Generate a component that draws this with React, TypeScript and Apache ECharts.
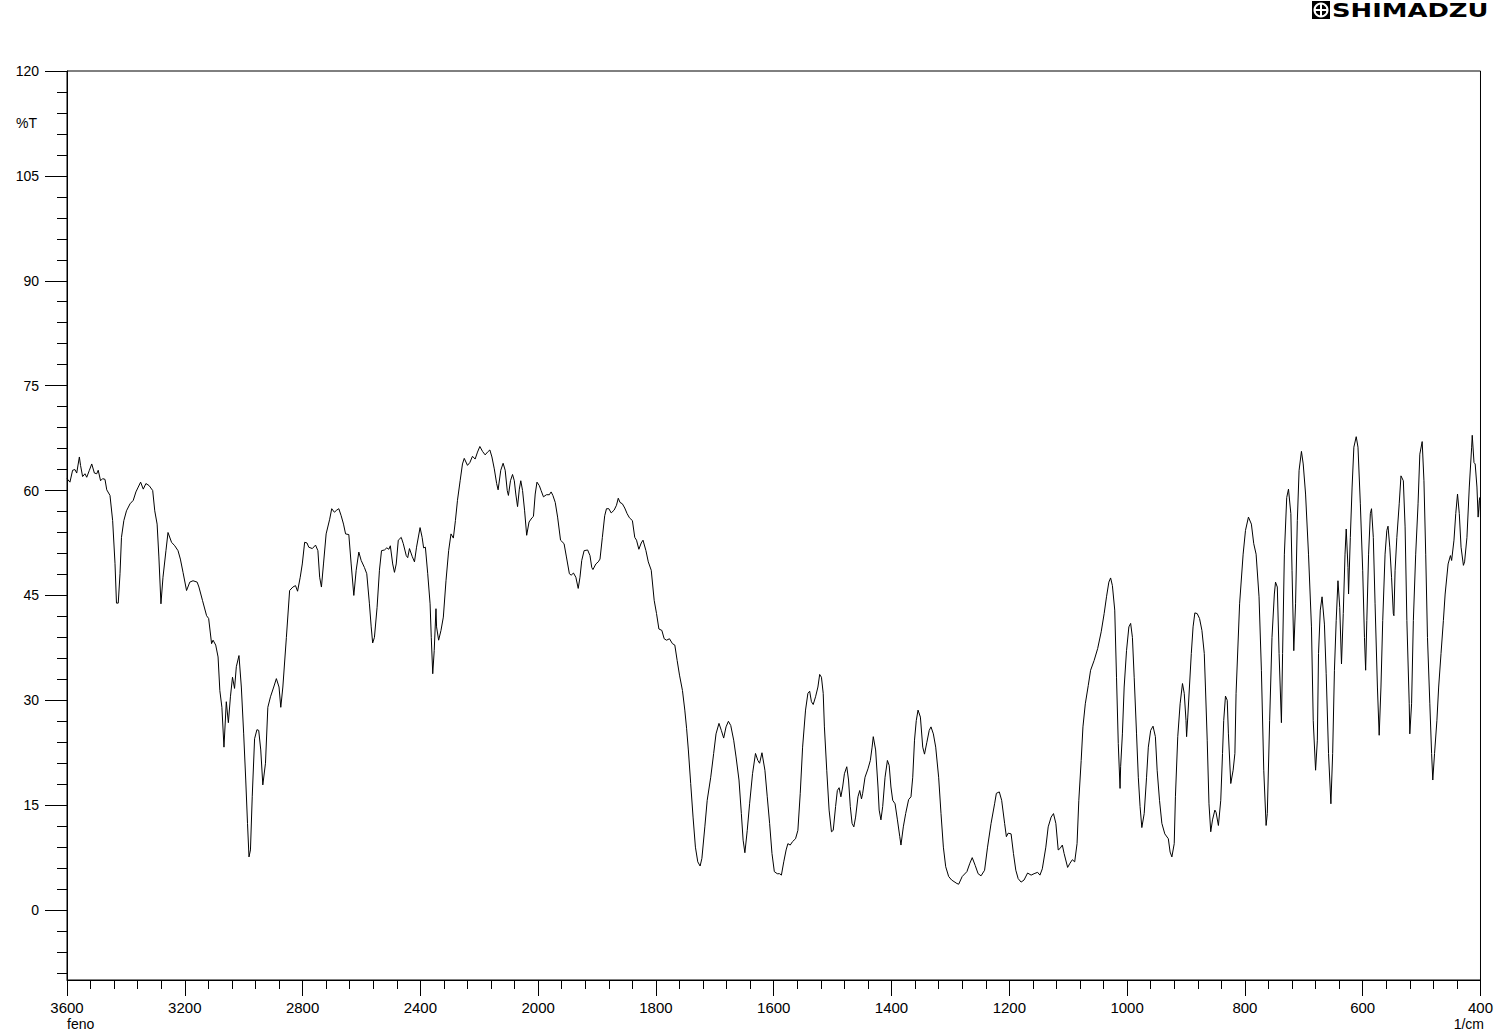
import React, { useEffect, useRef } from "react";
import * as echarts from "echarts";

// Wavenumbers (1/cm), descending, and %T readings
const wavenumbers: number[] = [
  3600, 3590, 3581, 3573, 3567, 3558, 3554, 3547, 3539, 3533, 3524, 3516, 3507, 3499, 3494, 3486, 3479, 3471, 3465, 3454,
  3445, 3437, 3432, 3426, 3420, 3415, 3407, 3398, 3386, 3375, 3366, 3358, 3350, 3341, 3332, 3321, 3309, 3302, 3294, 3288,
  3281, 3274, 3264, 3257, 3245, 3234, 3223, 3215, 3206, 3194, 3183, 3172, 3158, 3152, 3140, 3126, 3119, 3109, 3104, 3095,
  3087, 3081, 3074, 3067, 3059, 3052, 3045, 3038, 3031, 3025, 3016, 3008, 3000, 2993, 2987, 2982, 2977, 2971, 2963, 2955,
  2949, 2942, 2935, 2926, 2918, 2909, 2898, 2889, 2880, 2874, 2867, 2855, 2844, 2833, 2824, 2817, 2808, 2801, 2793, 2785,
  2779, 2767, 2756, 2748, 2742, 2736, 2729, 2720, 2708, 2701, 2692, 2684, 2677, 2669, 2661, 2654, 2643, 2635, 2626, 2618,
  2609, 2601, 2590, 2582, 2573, 2567, 2562, 2556, 2547, 2539, 2532, 2522, 2514, 2507, 2502, 2494, 2488, 2482, 2475, 2465,
  2458, 2448, 2443, 2437, 2428, 2420, 2413, 2401, 2394, 2389, 2383, 2375, 2367, 2363, 2358, 2353, 2347, 2345, 2338, 2330,
  2322, 2313, 2304, 2296, 2288, 2281, 2274, 2265, 2257, 2251, 2240, 2232, 2223, 2214, 2206, 2198, 2189, 2180, 2172, 2164,
  2157, 2149, 2141, 2136, 2127, 2119, 2112, 2105, 2101, 2094, 2087, 2081, 2076, 2070, 2064, 2059, 2053, 2046, 2039, 2031,
  2021, 2016, 2010, 2004, 1998, 1995, 1991, 1986, 1981, 1978, 1975, 1971, 1967, 1962, 1956, 1952, 1947, 1944, 1940, 1936,
  1932, 1929, 1926, 1922, 1916, 1912, 1909, 1907, 1902, 1898, 1895, 1891, 1887, 1884, 1880, 1876, 1871, 1867, 1864, 1861,
  1857, 1853, 1849, 1845, 1840, 1836, 1833, 1829, 1825, 1822, 1817, 1813, 1808, 1803, 1799, 1795, 1790, 1786, 1782, 1777,
  1772, 1768, 1764, 1760, 1755, 1751, 1748, 1745, 1741, 1737, 1733, 1729, 1725, 1722, 1717, 1713, 1707, 1702, 1698, 1693,
  1689, 1685, 1681, 1677, 1673, 1668, 1664, 1659, 1655, 1652, 1649, 1645, 1641, 1636, 1631, 1627, 1624, 1620, 1615, 1611,
  1607, 1603, 1599, 1594, 1590, 1587, 1583, 1579, 1576, 1572, 1568, 1563, 1559, 1555, 1551, 1546, 1542, 1539, 1536, 1533,
  1529, 1525, 1522, 1519, 1516, 1514, 1510, 1506, 1502, 1499, 1495, 1492, 1489, 1486, 1483, 1480, 1476, 1473, 1470, 1467,
  1464, 1461, 1457, 1454, 1451, 1449, 1445, 1440, 1436, 1433, 1431, 1427, 1423, 1421, 1418, 1415, 1411, 1407, 1404, 1401,
  1398, 1394, 1390, 1386, 1384, 1380, 1376, 1371, 1367, 1364, 1361, 1358, 1355, 1351, 1347, 1344, 1340, 1336, 1333, 1329,
  1325, 1320, 1316, 1312, 1308, 1303, 1298, 1289, 1286, 1280, 1272, 1267, 1263, 1258, 1253, 1248, 1242, 1237, 1231, 1225,
  1222, 1217, 1213, 1208, 1205, 1202, 1197, 1193, 1189, 1185, 1180, 1175, 1169, 1163, 1158, 1152, 1148, 1144, 1138, 1134,
  1129, 1125, 1121, 1117, 1114, 1110, 1107, 1101, 1097, 1093, 1089, 1085, 1082, 1078, 1075, 1071, 1066, 1062, 1056, 1050,
  1044, 1039, 1035, 1031, 1028, 1025, 1021, 1018, 1015, 1012, 1011, 1008, 1005, 1001, 997, 994, 991, 988, 984, 981,
  978, 975, 971, 967, 964, 960, 956, 952, 949, 945, 941, 936, 930, 927, 924, 920, 918, 914, 910, 906,
  903, 900, 899, 897, 891, 888, 885, 881, 877, 873, 869, 867, 864, 861, 858, 855, 851, 849, 845, 841,
  838, 836, 833, 830, 828, 824, 820, 817, 815, 809, 803, 799, 794, 789, 785, 781, 776, 772, 768, 764,
  762, 758, 754, 750, 748, 745, 742, 738, 736, 733, 729, 726, 722, 720, 717, 714, 711, 708, 704, 701,
  697, 692, 687, 684, 680, 677, 675, 672, 669, 665, 662, 658, 654, 651, 648, 645, 642, 639, 636, 633,
  630, 628, 625, 624, 621, 618, 615, 611, 608, 604, 600, 597, 595, 593, 590, 587, 585, 582, 579, 575,
  572, 569, 566, 562, 559, 557, 554, 551, 548, 547, 545, 542, 538, 535, 531, 528, 525, 521, 520, 517,
  514, 510, 506, 503, 499, 496, 493, 490, 486, 483, 481, 478, 474, 471, 467, 463, 460, 455, 451, 449,
  445, 442, 439, 436, 433, 429, 427, 423, 419, 415, 414, 411, 409, 406, 404, 402, 401, 400,
];

const transmittance: number[] = [
  61.7, 61.2, 62.9, 63.0, 62.5, 64.8, 63.6, 62.0, 62.4, 61.9, 62.9, 63.8, 62.5, 62.4, 62.9, 61.4, 61.7, 61.6, 60.1, 59.3,
  55.7, 49.6, 43.9, 43.9, 48.1, 53.3, 55.7, 57.1, 58.1, 58.6, 59.8, 60.5, 61.2, 60.2, 61.0, 60.7, 60.0, 57.1, 55.2, 50.5,
  43.8, 47.6, 51.4, 54.0, 52.6, 52.1, 51.4, 50.2, 48.3, 45.7, 46.9, 47.1, 46.9, 46.2, 44.3, 42.1, 41.7, 38.1, 38.6, 37.9,
  36.2, 31.4, 29.0, 23.3, 29.8, 26.8, 30.5, 33.3, 31.7, 34.8, 36.4, 31.9, 25.2, 18.6, 12.4, 7.6, 8.6, 16.2, 24.5, 25.8,
  25.7, 22.9, 17.9, 21.0, 29.0, 30.5, 31.9, 33.1, 31.9, 29.0, 31.9, 39.0, 45.7, 46.2, 46.4, 45.6, 47.6, 49.5, 52.6, 52.5,
  51.9, 51.7, 52.2, 51.4, 47.6, 46.2, 49.5, 53.8, 55.9, 57.4, 56.9, 57.2, 57.4, 56.4, 55.2, 53.8, 53.7, 49.5, 45.0, 48.6,
  51.2, 50.0, 49.0, 48.1, 43.8, 40.5, 38.2, 39.0, 43.3, 48.6, 51.4, 51.5, 51.8, 51.6, 52.1, 49.5, 48.3, 49.5, 52.9, 53.3,
  52.4, 50.7, 50.4, 51.7, 50.6, 49.8, 51.9, 54.7, 53.3, 51.8, 51.9, 48.1, 43.8, 39.0, 33.8, 37.1, 43.1, 40.5, 38.6, 40.0,
  41.9, 47.1, 51.4, 53.8, 53.2, 55.7, 58.6, 61.4, 63.8, 64.6, 63.6, 64.0, 64.9, 64.5, 65.5, 66.3, 65.6, 65.1, 65.5, 65.8,
  64.8, 63.1, 61.0, 60.1, 62.9, 63.9, 62.9, 60.0, 59.3, 61.4, 62.3, 61.4, 59.5, 57.7, 60.2, 61.4, 60.0, 57.1, 53.6, 55.5,
  56.1, 56.3, 59.5, 61.2, 60.7, 60.0, 59.1, 59.4, 59.4, 59.8, 59.3, 58.3, 56.2, 52.9, 52.4, 50.5, 48.1, 47.9, 48.2, 47.6,
  46.0, 47.6, 50.0, 51.4, 51.5, 50.7, 49.0, 48.7, 49.5, 49.8, 50.2, 53.3, 56.4, 57.4, 57.4, 56.8, 57.2, 57.9, 58.9, 58.3,
  58.1, 57.5, 56.7, 56.1, 55.7, 53.3, 52.9, 51.6, 52.5, 52.9, 51.4, 49.8, 48.6, 44.3, 42.4, 40.2, 40.0, 38.8, 38.6, 38.8,
  38.1, 37.9, 35.7, 33.6, 31.4, 28.6, 26.0, 22.9, 18.1, 13.3, 9.0, 6.9, 6.3, 7.4, 11.9, 15.7, 19.0, 22.4, 25.2, 26.7,
  25.7, 24.6, 26.2, 27.0, 26.4, 24.3, 21.9, 18.6, 13.8, 10.0, 8.2, 11.4, 15.2, 19.5, 22.4, 21.4, 21.0, 22.5, 20.0, 16.2,
  12.4, 8.1, 5.5, 5.2, 5.2, 5.0, 6.9, 8.6, 9.5, 9.3, 9.8, 10.2, 11.4, 16.7, 23.3, 28.6, 31.0, 31.3, 29.8, 29.4,
  30.5, 31.9, 33.7, 33.3, 31.0, 26.2, 20.0, 14.3, 11.2, 11.4, 14.8, 17.1, 17.5, 16.2, 17.6, 19.5, 20.5, 18.6, 14.8, 12.4,
  11.9, 13.3, 16.2, 17.1, 15.9, 16.7, 19.0, 20.2, 21.4, 23.3, 24.8, 22.9, 17.6, 14.3, 12.9, 14.8, 19.0, 21.4, 20.7, 17.6,
  15.7, 15.2, 12.9, 10.5, 9.3, 11.9, 13.8, 15.8, 16.2, 19.0, 24.3, 27.1, 28.6, 27.6, 23.3, 22.3, 24.0, 25.7, 26.2, 25.2,
  23.3, 19.0, 13.8, 9.0, 6.2, 4.8, 4.3, 3.8, 3.7, 4.8, 5.5, 6.7, 7.5, 6.4, 5.2, 4.9, 5.7, 9.0, 12.4, 15.2,
  16.7, 16.9, 15.7, 12.4, 10.5, 11.0, 10.9, 8.1, 5.7, 4.5, 4.0, 4.3, 5.3, 5.0, 5.2, 5.4, 5.0, 5.9, 9.0, 11.9,
  13.3, 13.8, 12.4, 8.6, 8.8, 9.3, 8.1, 6.1, 6.7, 7.2, 6.9, 9.5, 15.7, 21.4, 26.2, 29.5, 32.1, 34.3, 35.7, 37.4,
  39.8, 42.4, 44.8, 46.9, 47.5, 46.4, 42.9, 33.3, 23.8, 17.4, 20.5, 25.2, 31.9, 37.1, 40.5, 41.0, 39.0, 33.3, 25.2, 19.0,
  14.8, 11.8, 13.8, 19.0, 23.3, 25.7, 26.3, 24.8, 20.0, 15.7, 12.4, 10.9, 10.2, 8.3, 7.6, 9.5, 16.2, 24.8, 29.5, 32.4,
  31.0, 27.1, 24.8, 27.6, 36.7, 40.5, 42.5, 42.4, 41.7, 40.0, 36.7, 31.9, 24.3, 15.2, 11.2, 12.9, 14.3, 14.0, 12.1, 15.7,
  22.4, 27.1, 30.6, 30.0, 25.2, 18.1, 20.0, 22.4, 31.0, 43.8, 50.9, 54.3, 56.2, 55.2, 52.4, 50.9, 44.8, 34.3, 20.0, 12.1,
  13.8, 27.1, 39.0, 45.2, 46.9, 46.2, 36.7, 26.8, 36.7, 50.9, 59.0, 60.2, 56.7, 48.6, 37.1, 43.8, 55.7, 62.9, 65.6, 63.8,
  59.5, 50.9, 40.5, 27.1, 20.0, 24.3, 36.7, 42.9, 44.8, 40.9, 33.8, 22.4, 15.2, 22.4, 34.3, 41.4, 47.1, 43.3, 35.2, 42.4,
  50.9, 54.5, 49.0, 45.2, 53.3, 60.5, 66.2, 67.7, 66.2, 58.1, 48.6, 39.0, 34.3, 41.4, 50.9, 56.7, 57.4, 53.3, 43.8, 31.9,
  25.0, 31.9, 41.4, 50.9, 54.3, 54.9, 51.9, 47.6, 42.4, 42.1, 48.6, 53.3, 58.1, 62.1, 61.4, 54.8, 41.4, 29.5, 25.2, 29.5,
  41.4, 50.9, 58.1, 65.2, 67.0, 61.4, 50.9, 39.0, 29.5, 22.4, 18.6, 22.4, 27.1, 31.9, 36.7, 41.4, 45.2, 49.5, 50.7, 50.0,
  52.9, 56.7, 59.5, 56.7, 51.9, 49.3, 49.8, 53.3, 60.5, 66.2, 67.9, 64.0, 63.8, 60.5, 56.2, 58.6, 59.0, 56.2,
];

const xTickWavenumbers: number[] = [3600, 3200, 2800, 2400, 2000, 1800, 1600, 1400, 1200, 1000, 800, 600, 400];
const yMajorTicks: number[] = [0, 15, 30, 45, 60, 75, 90, 105, 120];
const yMinorTicks: number[] = [
  -9, -6, -3, 3, 6, 9, 12, 18, 21, 24, 27, 33, 36, 39, 42, 48, 51, 54, 57, 63, 66, 69, 72,
  78, 81, 84, 87, 93, 96, 99, 102, 108, 111, 114, 117,
];

// Shimadzu plots use 400 1/cm per division above 2000 and 200 1/cm per division below.
function toAxis(w: number): number {
  return w >= 2000 ? (3600 - w) / 400 : 4 + (2000 - w) / 200;
}

export default function App() {
  const ref = useRef<HTMLDivElement>(null);

  useEffect(() => {
    if (!ref.current) return;
    const chart = echarts.init(ref.current, null, { renderer: "svg", width: 1496, height: 1031 });
    const data = wavenumbers.map((w, i) => [toAxis(w), transmittance[i]]);
    const font = "Liberation Sans, Arial, sans-serif";

    chart.setOption({
      animation: false,
      backgroundColor: "#ffffff",
      grid: {
        left: 67,
        top: 71,
        width: 1416,
        height: 909,
        show: true,
        borderColor: "#000",
        borderWidth: 1,
        backgroundColor: "transparent",
      },
      xAxis: {
        type: "value",
        min: 0,
        max: 12,
        interval: 1,
        position: "bottom",
        axisLine: { show: true, onZero: false, lineStyle: { color: "#000", width: 1 } },
        axisTick: { show: true, length: 16, lineStyle: { color: "#000", width: 1 } },
        minorTick: { show: true, splitNumber: 5, length: 9, lineStyle: { color: "#000", width: 1 } },
        splitLine: { show: false },
        minorSplitLine: { show: false },
        axisLabel: {
          margin: 20,
          color: "#000",
          fontFamily: font,
          fontSize: 15,
          formatter: (v: number) => {
            const idx = Math.round(v);
            return xTickWavenumbers[idx] !== undefined ? String(xTickWavenumbers[idx]) : "";
          },
        },
      },
      yAxis: [
        {
          type: "value",
          min: -10,
          max: 120,
          position: "left",
          axisLine: { show: true, onZero: false, lineStyle: { color: "#000", width: 1 } },
          axisTick: { show: true, length: 22, customValues: yMajorTicks, lineStyle: { color: "#000", width: 1 } },
          splitLine: { show: false },
          axisLabel: {
            show: true,
            customValues: yMajorTicks,
            margin: 28,
            color: "#000",
            fontFamily: font,
            fontSize: 14,
          },
        },
        {
          type: "value",
          min: -10,
          max: 120,
          position: "left",
          offset: 0,
          axisLine: { show: false, onZero: false },
          axisTick: { show: true, length: 10, customValues: yMinorTicks, lineStyle: { color: "#000", width: 1 } },
          splitLine: { show: false },
          axisLabel: { show: false },
        },
      ],
      series: [
        {
          type: "line",
          data,
          xAxisIndex: 0,
          yAxisIndex: 0,
          showSymbol: false,
          symbol: "none",
          lineStyle: { color: "#000", width: 1 },
          silent: true,
        },
      ],
      graphic: [
        { type: "text", x: 16, y: 123, style: { text: "%T", font: `14px ${font}`, fill: "#000", textVerticalAlign: "middle" } },
        { type: "text", x: 67, y: 1024, style: { text: "feno", font: `14px ${font}`, fill: "#000", textVerticalAlign: "middle" } },
        {
          type: "text",
          x: 1484,
          y: 1024,
          style: { text: "1/cm", font: `14px ${font}`, fill: "#000", textAlign: "right", textVerticalAlign: "middle" },
        },
        { type: "rect", shape: { x: 1312, y: 1, width: 18, height: 18 }, style: { fill: "#000" } },
        { type: "circle", shape: { cx: 1321, cy: 10, r: 6.5 }, style: { fill: "#000", stroke: "#fff", lineWidth: 2 } },
        { type: "line", shape: { x1: 1321, y1: 3.5, x2: 1321, y2: 16.5 }, style: { stroke: "#fff", lineWidth: 2 } },
        { type: "line", shape: { x1: 1314.5, y1: 10, x2: 1327.5, y2: 10 }, style: { stroke: "#fff", lineWidth: 2 } },
        {
          type: "text",
          x: 1332,
          y: 10,
          scaleX: 1.29,
          style: {
            text: "SHIMADZU",
            x: 0,
            y: 0,
            textAlign: "left",
            textVerticalAlign: "middle",
            font: "bold 20px DejaVu Sans, sans-serif",
            fill: "#000",
          },
        },
      ],
    });

    return () => chart.dispose();
  }, []);

  return (
    <div
      ref={ref}
      style={{ position: "fixed", left: 0, top: 0, width: 1496, height: 1031, background: "#fff" }}
    />
  );
}
